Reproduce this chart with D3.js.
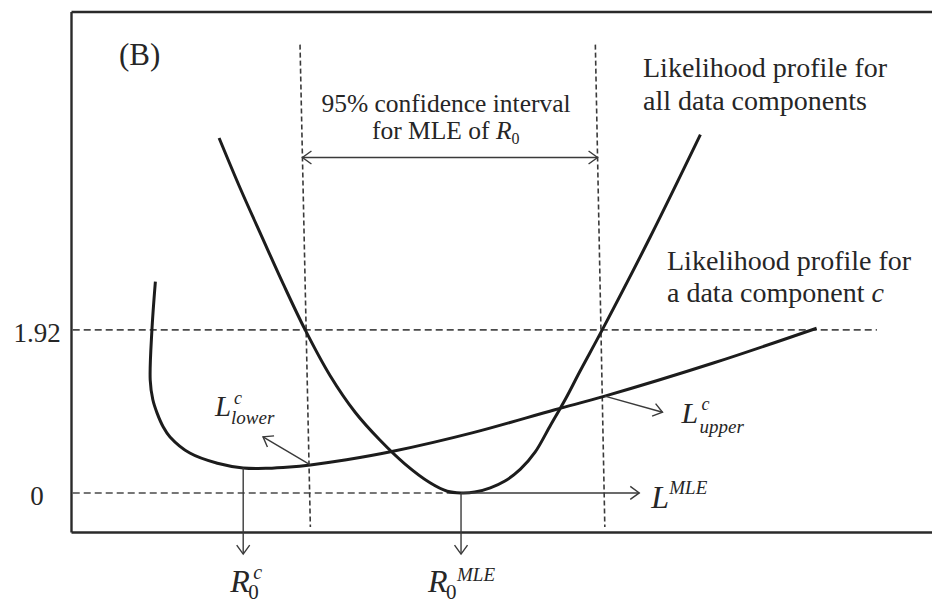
<!DOCTYPE html>
<html><head><meta charset="utf-8">
<script src="https://cdn.jsdelivr.net/npm/d3@7"></script>
<style>body{margin:0;background:#fff} svg{display:block}</style>
</head><body><svg id="c" width="932" height="604"></svg>
<script>
// ---- data (R0 in arbitrary units, likelihood profile value) ----
const allR0  = [1.72, 1.96, 2.22, 2.47, 2.72, 3.01, 3.30, 3.59, 3.88, 4.17, 4.37, 4.53, 4.69, 4.87, 5.04, 5.22, 5.39, 5.56, 5.74, 5.91, 6.17, 6.73, 7.31];
const allL   = [4.18, 3.60, 3.01, 2.45, 1.92, 1.38, 0.95, 0.62, 0.34, 0.12, 0.02, 0.00, 0.01, 0.06, 0.14, 0.28, 0.48, 0.78, 1.10, 1.43, 1.92, 3.02, 4.22];
const compR0 = [0.98, 0.94, 0.92, 0.95, 1.00, 1.07, 1.15, 1.38, 1.70, 2.00, 2.28, 2.54, 2.78, 3.20, 3.74, 4.67, 5.62, 6.20, 7.46, 8.66];
const compL  = [2.49, 1.92, 1.33, 1.10, 0.94, 0.78, 0.66, 0.47, 0.35, 0.295, 0.29, 0.305, 0.33, 0.39, 0.49, 0.71, 0.98, 1.14, 1.53, 1.94];
const yTickValues = [0, 1.92];
const yTickLabels = ["0", "1.92"];
const threshold = 1.92;
const ciLowerR0 = [2.66, 2.78];   // top, bottom of dashed line
const ciUpperR0 = [6.09, 6.20];
const ciSpanL = [5.28, -0.40];
const ciArrowL = 3.95;
const mleR0 = 4.53;
const compMinR0 = 2.00, compMinL = 0.295;
const lowerPt = [2.78, 0.33], lowerTip = [2.23, 0.66];
const upperPt = [6.20, 1.14], upperTip = [6.87, 0.95];
const mleArrowEnd = 6.60;
const downArrowL = -0.72;
const thresholdSpan = [0.02, 9.36];

// ---- layout ----
const W = 932, H = 604;
const box = {left: 71, top: 11.5, right: 932, bottom: 532};
const svg = d3.select("#c");
const x = d3.scaleLinear().domain([0, 10]).range([box.left, box.right]);
const y = d3.scaleLinear().domain([-0.46, 5.67]).range([box.bottom, box.top]);
const ink = "#1c1c1c", grey = "#3a3a3a", txt = "#262626";
const serif = "'Liberation Serif','Times New Roman',serif";

// arrow marker
const defs = svg.append("defs");
defs.append("marker").attr("id", "ah").attr("markerUnits", "userSpaceOnUse")
  .attr("viewBox", "-12 -8 14 16").attr("markerWidth", 14).attr("markerHeight", 16)
  .attr("refX", 0).attr("refY", 0).attr("orient", "auto-start-reverse")
  .append("path").attr("d", "M-9,-6.5L0,0L-9,6.5").attr("fill", "none")
  .attr("stroke", grey).attr("stroke-width", 1.4);

// dashed reference lines
const dashH = "7,4", dashV = "5,3";
svg.append("line").attr("x1", x(thresholdSpan[0])).attr("x2", x(thresholdSpan[1]))
  .attr("y1", y(threshold)).attr("y2", y(threshold))
  .attr("stroke", "#4a4a4a").attr("stroke-width", 1.6).attr("stroke-dasharray", dashH);
svg.append("line").attr("x1", x(thresholdSpan[0])).attr("x2", x(mleR0))
  .attr("y1", y(0)).attr("y2", y(0))
  .attr("stroke", "#4a4a4a").attr("stroke-width", 1.6).attr("stroke-dasharray", dashH);
[ciLowerR0, ciUpperR0].forEach(c => {
  svg.append("line").attr("x1", x(c[0])).attr("x2", x(c[1]))
    .attr("y1", y(ciSpanL[0])).attr("y2", y(ciSpanL[1]))
    .attr("stroke", "#3a3a3a").attr("stroke-width", 1.6).attr("stroke-dasharray", dashV);
});

// frame / axes
const yAxis = d3.axisLeft(y).tickValues(yTickValues).tickSize(0).tickPadding(34)
  .tickFormat((d, i) => yTickLabels[i]);
const gy = svg.append("g").attr("transform", `translate(${box.left},0)`).call(yAxis);
gy.select(".domain").attr("stroke", "#2a2a2a").attr("stroke-width", 2.4);
gy.selectAll("text").attr("text-anchor", "middle").attr("dy", "0.42em")
  .attr("font-family", serif).attr("font-size", 27).attr("fill", txt);
const xAxis = d3.axisBottom(x).tickValues([]).tickSizeOuter(0);
svg.append("g").attr("transform", `translate(0,${box.bottom})`).call(xAxis)
  .select(".domain").attr("stroke", "#2a2a2a").attr("stroke-width", 2.4);
svg.append("g").attr("transform", `translate(0,${box.top})`).call(d3.axisTop(x).tickValues([]).tickSizeOuter(0))
  .select(".domain").attr("stroke", "#2a2a2a").attr("stroke-width", 2.4);

// curves
const line = d3.line().x(d => x(d[0])).y(d => y(d[1])).curve(d3.curveCatmullRom.alpha(0.5));
svg.append("path").datum(allR0.map((r, i) => [r, allL[i]])).attr("d", line)
  .attr("fill", "none").attr("stroke", ink).attr("stroke-width", 3).attr("stroke-linejoin", "round");
svg.append("path").datum(compR0.map((r, i) => [r, compL[i]])).attr("d", line)
  .attr("fill", "none").attr("stroke", ink).attr("stroke-width", 3).attr("stroke-linejoin", "round");

// annotation arrows
function arrow(x1, y1, x2, y2, both) {
  const l = svg.append("line").attr("x1", x1).attr("y1", y1).attr("x2", x2).attr("y2", y2)
    .attr("stroke", grey).attr("stroke-width", 1.4).attr("marker-end", "url(#ah)");
  if (both) l.attr("marker-start", "url(#ah)");
}
const ciX = (c, L) => x(c[0] + (c[1] - c[0]) * (ciSpanL[0] - L) / (ciSpanL[0] - ciSpanL[1]));
arrow(ciX(ciLowerR0, ciArrowL), y(ciArrowL), ciX(ciUpperR0, ciArrowL), y(ciArrowL), true);
arrow(x(compMinR0), y(compMinL), x(compMinR0), y(downArrowL));
arrow(x(mleR0), y(0), x(mleR0), y(downArrowL));
arrow(x(mleR0), y(0), x(mleArrowEnd), y(0));
arrow(x(lowerPt[0]), y(lowerPt[1]), x(lowerTip[0]), y(lowerTip[1]));
arrow(x(upperPt[0]), y(upperPt[1]), x(upperTip[0]), y(upperTip[1]));

// text helpers
function text(px, py, s, size, opts = {}) {
  return svg.append("text").attr("x", px).attr("y", py).text(s)
    .attr("font-family", serif).attr("font-size", size).attr("fill", txt)
    .attr("font-style", opts.italic ? "italic" : "normal")
    .attr("text-anchor", opts.anchor || "start");
}
function sym(px, py, main, size, sup, sub, o) {
  text(px, py, main, size, {italic: true});
  if (sup) text(px + o.supDx, py - o.supDy, sup, o.supSize, {italic: true});
  if (sub) text(px + o.subDx, py + o.subDy, sub, o.subSize, {italic: o.subItalic});
}

text(119, 65, "(B)", 31);

// CI label
text(446, 112, "95% confidence interval", 25.5, {anchor: "middle"});
const l2 = svg.append("text").attr("x", 372).attr("y", 139).attr("font-family", serif)
  .attr("font-size", 25.5).attr("fill", txt);
l2.append("tspan").text("for MLE of ");
l2.append("tspan").attr("font-style", "italic").text("R");
l2.append("tspan").attr("font-size", 16).attr("dy", 5).text("0");

// curve labels
text(643, 77, "Likelihood profile for", 28);
text(643, 110, "all data components", 28);
text(667, 270, "Likelihood profile for", 28);
const c2 = svg.append("text").attr("x", 667).attr("y", 302).attr("font-family", serif)
  .attr("font-size", 28).attr("fill", txt);
c2.append("tspan").text("a data component ");
c2.append("tspan").attr("font-style", "italic").text("c");

// symbol labels
sym(x(compMinR0) - 13, 592, "R", 32, "c", "0", {supDx: 23, supDy: 13, supSize: 20, subDx: 18, subDy: 7, subSize: 21});
sym(x(mleR0) - 33, 592, "R", 32, "MLE", "0", {supDx: 29, supDy: 11, supSize: 19, subDx: 18, subDy: 7, subSize: 21});
sym(x(mleArrowEnd) + 12, 508, "L", 32, "MLE", null, {supDx: 18, supDy: 14, supSize: 19});
sym(215, 416, "L", 29, "c", "lower", {supDx: 19, supDy: 12, supSize: 18, subDx: 16, subDy: 8, subSize: 19, subItalic: true});
sym(x(upperTip[0]) + 19, 423, "L", 30, "c", "upper", {supDx: 20, supDy: 13, supSize: 18, subDx: 18, subDy: 10, subSize: 19, subItalic: true});
</script></body></html>
